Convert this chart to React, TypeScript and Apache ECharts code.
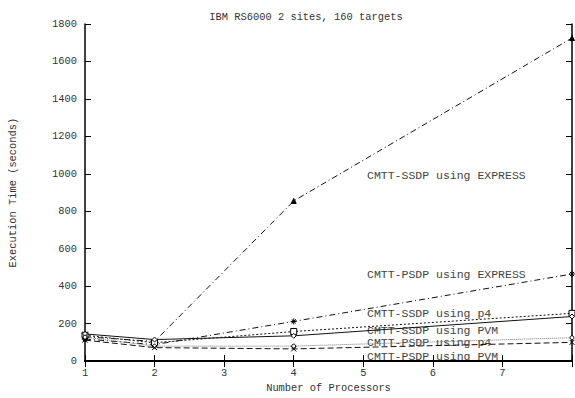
import React, { useEffect, useRef } from "react";
import * as echarts from "echarts";

const processors = [1, 2, 4, 8];
const ssdpExpress = [130, 105, 855, 1725];
const psdpExpress = [118, 88, 212, 465];
const ssdpP4 = [138, 98, 158, 255];
const ssdpPvm = [145, 115, 135, 238];
const psdpP4 = [128, 80, 80, 125];
const psdpPvm = [112, 72, 65, 100];
const seriesNames = [
  "CMTT-SSDP using EXPRESS",
  "CMTT-PSDP using EXPRESS",
  "CMTT-SSDP using p4",
  "CMTT-SSDP using PVM",
  "CMTT-PSDP using p4",
  "CMTT-PSDP using PVM",
];
const xTicks = [1, 2, 3, 4, 5, 6, 7];
const yTicks = [0, 200, 400, 600, 800, 1000, 1200, 1400, 1600, 1800];

const FONT = "'Liberation Mono', 'DejaVu Sans Mono', monospace";
const ASTER = "path://M0,5 L10,5 M5,0 L5,10 M1.5,1.5 L8.5,8.5 M8.5,1.5 L1.5,8.5";
const CROSS = "path://M0,0 L10,10 M10,0 L0,10";

export default function App() {
  const ref = useRef<HTMLDivElement>(null);
  useEffect(() => {
    const chart = echarts.init(ref.current!, null, { renderer: "svg" });
    const pair = (vals: number[]) => processors.map((p, i) => [p, vals[i]]);
    const mk = (
      name: string,
      vals: number[],
      lineType: any,
      symbol: string,
      size: number,
      fill: string,
      color = "#111"
    ) => ({
      name,
      type: "line",
      data: pair(vals),
      symbol,
      symbolSize: size,
      showSymbol: true,
      lineStyle: { color, width: 1, type: lineType },
      itemStyle: { color: fill, borderColor: "#000", borderWidth: 1 },
    });
    const labelYs = [176, 275, 314, 331, 343, 357];
    chart.setOption({
      animation: false,
      title: {
        text: "IBM RS6000 2 sites, 160 targets",
        left: 301,
        top: 7,
        textAlign: "center",
        textStyle: { fontFamily: FONT, fontSize: 10.4, fontWeight: "normal", color: "#333" },
      },
      grid: { left: 85, top: 24, right: -3, bottom: 31 },
      xAxis: [
        {
          type: "value",
          min: 1,
          max: 8,
          interval: 1,
          name: "Number of Processors",
          nameLocation: "middle",
          nameGap: 15,
          nameTextStyle: { fontFamily: FONT, fontSize: 10.4, color: "#333" },
          axisLine: { lineStyle: { color: "#000", width: 2 } },
          axisTick: { inside: true, length: 6, lineStyle: { color: "#000" } },
          axisLabel: {
            fontFamily: FONT,
            fontSize: 10.4,
            color: "#333",
            margin: 7,
            formatter: (v: number) => (xTicks.includes(v) ? String(v) : ""),
          },
          splitLine: { show: false },
        },
        {
          type: "value",
          position: "top",
          min: 1,
          max: 8,
          interval: 1,
          axisLine: { show: true, lineStyle: { color: "#000", width: 1.5 } },
          axisTick: { inside: true, length: 6, lineStyle: { color: "#000" } },
          axisLabel: { show: false },
          splitLine: { show: false },
        },
      ],
      yAxis: [
        {
          type: "value",
          min: 0,
          max: 1800,
          interval: 200,
          name: "Execution Time (seconds)",
          nameLocation: "middle",
          nameGap: 67,
          nameTextStyle: { fontFamily: FONT, fontSize: 10.4, color: "#333" },
          axisLine: { show: true, lineStyle: { color: "#000", width: 1.5 } },
          axisTick: { show: true, inside: true, length: 6, lineStyle: { color: "#000" } },
          axisLabel: {
            fontFamily: FONT,
            fontSize: 10.4,
            color: "#333",
            margin: 8,
            formatter: (v: number) => (yTicks.includes(v) ? String(v) : ""),
          },
          splitLine: { show: false },
        },
        {
          type: "value",
          position: "right",
          min: 0,
          max: 1800,
          interval: 200,
          axisLine: { show: true, lineStyle: { color: "#000", width: 1.5 } },
          axisTick: { show: true, inside: true, length: 6, lineStyle: { color: "#000" } },
          axisLabel: { show: false },
          splitLine: { show: false },
        },
      ],
      series: [
        mk(seriesNames[0], ssdpExpress, [6, 3, 1, 3], "triangle", 5, "#000"),
        mk(seriesNames[1], psdpExpress, [6, 3, 1, 3], ASTER, 6, "none"),
        mk(seriesNames[2], ssdpP4, [2, 2], "rect", 6, "#fff"),
        mk(seriesNames[3], ssdpPvm, "solid", "diamond", 5, "#fff"),
        mk(seriesNames[4], psdpP4, [1, 1], "circle", 4, "#fff", "#777"),
        mk(seriesNames[5], psdpPvm, [6, 3], CROSS, 5, "none"),
      ],
      graphic: seriesNames.map((n, i) => ({
        type: "text",
        left: 367,
        top: labelYs[i] - 7,
        style: { text: n, fontFamily: FONT, fontSize: 11.5, fill: "#444" },
      })),
    });
    return () => chart.dispose();
  }, []);
  return (
    <div
      ref={ref}
      style={{ position: "fixed", left: 0, top: 0, width: 575, height: 398, background: "#fff" }}
    />
  );
}
